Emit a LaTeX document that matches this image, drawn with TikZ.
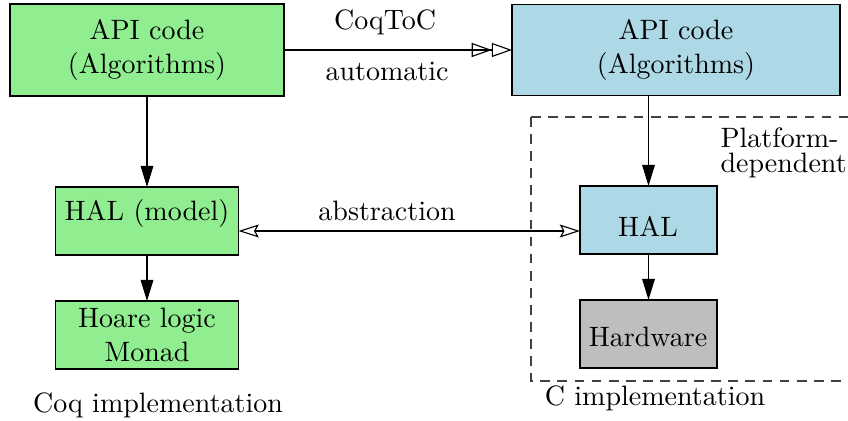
\documentclass[tikz,border=0pt]{standalone}
\usetikzlibrary{arrows.meta}
\definecolor{lgreen}{HTML}{90EE90}
\definecolor{lblue}{HTML}{ADD8E6}
\definecolor{lgray}{HTML}{BEBEBE}
\begin{document}
\begin{tikzpicture}[x=0.357pt,y=-0.357pt,
  box/.style={draw,inner sep=0pt,outer sep=0pt},
  txt/.style={inner sep=0pt,align=center},
  down/.style={-{Triangle[width=4.5pt,length=7.5pt]}},
  dbl/.style={-{Triangle[open,width=5pt,length=7.2pt]Triangle[open,width=5pt,length=7.2pt]}},
  abs/.style={{Stealth[open,width=4.6pt,length=7.2pt,inset=1.2pt]}-{Stealth[open,width=4.6pt,length=7.2pt,inset=1.2pt]}},
  dashbox/.style={draw=black!75,dash pattern=on 3.5pt off 2.6pt}]
\useasboundingbox (0,0) rectangle (848,421);
\clip (0,0) rectangle (848,421);
% boxes
\node[box,fill=lgreen,minimum width=274*0.357pt,minimum height=92*0.357pt] (a1) at (147,50) {};
\node[box,fill=lblue,minimum width=328*0.357pt,minimum height=91*0.357pt] (a2) at (676,50) {};
\node[box,fill=lgreen,minimum width=183*0.357pt,minimum height=68*0.357pt] (halm) at (147,221) {};
\node[box,fill=lgreen,minimum width=183*0.357pt,minimum height=68*0.357pt] (hoare) at (147,335) {};
\draw[dashbox] (531,117) rectangle (870,381);
\node[box,fill=lblue,minimum width=137*0.357pt,minimum height=68*0.357pt] (hal) at (648.5,220) {};
\node[box,fill=lgray,minimum width=137*0.357pt,minimum height=68*0.357pt] (hw) at (648.5,334) {};
% texts
\node[txt] (t1) at (147,50) {API code\\(Algorithms)};
\node[txt] (t2) at (676,50) {API code\\(Algorithms)};
\node[txt] (t3) at (147,214) {HAL (model)};
\node[txt] (t4) at (147,335) {Hoare logic\\Monad};
\node[txt] (t5) at (648,226) {HAL};
\node[txt] (t6) at (648,337) {Hardware};
\node[txt] (coq) at (158,405) {Coq implementation};
\node[txt] (cimp) at (655,398) {C implementation};
\node[txt,align=left,anchor=west] (plat) at (720,153) {Platform-\\[-3.2pt]dependent};
% connectors
\draw[dbl] (a1.east) -- node[pos=0.443,above=5pt,inner sep=0pt] (l1) {CoqToC} node[pos=0.452,below=4pt,inner sep=0pt] (l2) {automatic} (a2.west);
\draw[down] (a1.south) -- (halm.north);
\draw[down] (halm.south) -- (hoare.north);
\draw[down] (a2.south -| hal.north) -- (hal.north);
\draw[down] (hal.south) -- (hw.north);
\coordinate (lh) at (halm.east |- 0,231);
\coordinate (rh) at (hal.west |- 0,231);
\draw[abs] (lh) -- node[pos=0.435,above=3.5pt,inner sep=0pt] (l3) {abstraction} (rh);
\end{tikzpicture}
\end{document}
